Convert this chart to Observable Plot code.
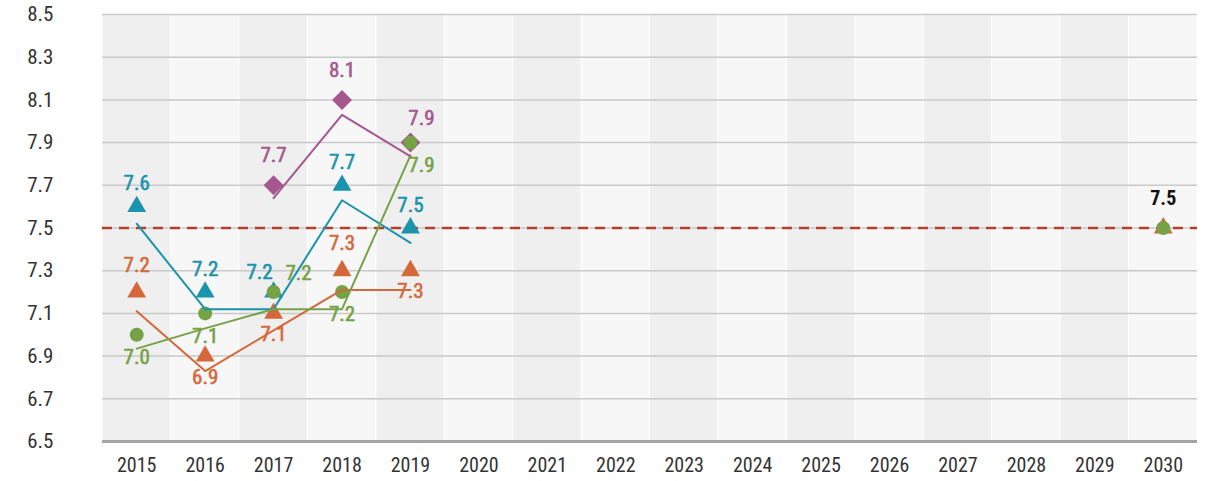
<!DOCTYPE html>
<html>
<head>
<meta charset="utf-8">
<script src="https://cdn.jsdelivr.net/npm/d3@7"></script>
<script src="https://cdn.jsdelivr.net/npm/@observablehq/plot@0.6"></script>
<style>
  html, body { margin: 0; padding: 0; background: #fff; }
  #chart svg { display: block; }
</style>
</head>
<body>
<div id="chart"></div>
<script>
// ---- data ----
const yearTicks = [2015,2016,2017,2018,2019,2020,2021,2022,2023,2024,2025,2026,2027,2028,2029,2030];
const yTicks = [6.5,6.7,6.9,7.1,7.3,7.5,7.7,7.9,8.1,8.3,8.5];

const years = [2015,2016,2017,2018,2019];
const tealValues   = [7.6, 7.2, 7.2, 7.7, 7.5];
const tealLine     = [7.52, 7.12, 7.12, 7.63, 7.43];
const orangeValues = [7.2, 6.9, 7.1, 7.3, 7.3];
const orangeLine   = [7.11, 6.83, 7.02, 7.21, 7.21];
const greenValues  = [7.0, 7.1, 7.2, 7.2, 7.9];
const greenLine    = [6.935, 7.03, 7.12, 7.12, 7.84];
const purpleYears  = [2017, 2018, 2019];
const purpleValues = [7.7, 8.1, 7.9];
const purpleLine   = [7.64, 8.03, 7.835];
const targetYear = 2030;
const targetValue = 7.5;

// ---- tables ----
const mk = (xs, ys) => xs.map((x, i) => ({x, y: ys[i]}));
const teal = mk(years, tealValues), tealL = mk(years, tealLine);
const orange = mk(years, orangeValues), orangeL = mk(years, orangeLine);
const green = mk(years, greenValues), greenL = mk(years, greenLine);
const purple = mk(purpleYears, purpleValues), purpleL = mk(purpleYears, purpleLine);
const target = [{x: targetYear, y: targetValue}];
const bands = yearTicks.map((x, i) => ({x, i}));

const C = {teal: "#1a93ad", orange: "#d5683b", green: "#76a246", purple: "#a5588f", red: "#b3402a"};
const FONT = "'Liberation Sans Narrow', 'Roboto Condensed', Roboto, sans-serif";
const fmt = d => d.y.toFixed(1);
const lbl = (color, extra) => ({x: "x", y: "y", fontSize: 21, text: fmt, fill: color, stroke: color, strokeWidth: 0.6, ...extra});

const hasAxisMarks = typeof Plot.axisX === "function";
const axisMarks = hasAxisMarks ? [
  Plot.axisX({ticks: yearTicks, tickFormat: "d", tickSize: 0, tickPadding: 16, fontSize: 20, fill: "#333", label: null}),
  Plot.axisY({ticks: yTicks, tickFormat: ".1f", tickSize: 0, tickPadding: 49, fontSize: 21, fill: "#333", label: null})
] : [];

const chart = Plot.plot({
  width: 1218,
  height: 481,
  marginLeft: 102,
  marginRight: 21,
  marginTop: 14,
  marginBottom: 40,
  style: {fontFamily: FONT, fontSize: "20px", color: "#333", background: "transparent"},
  x: {domain: [2014.5, 2030.5], ticks: yearTicks, tickFormat: "d", tickSize: 0, tickPadding: 16, label: null, axis: hasAxisMarks ? null : "bottom"},
  y: {domain: [6.5, 8.5], ticks: yTicks, tickFormat: ".1f", tickSize: 0, tickPadding: 49, label: null, axis: hasAxisMarks ? null : "left"},
  marks: [
    Plot.rect(bands, {x1: d => d.x - 0.5, x2: d => d.x + 0.5, y1: 6.5, y2: 8.5,
      fill: d => d.i % 2 === 0 ? "#efefef" : "#f7f7f7", insetLeft: 0.5, insetRight: 0.5}),
    Plot.ruleY(yTicks.filter(v => v > 6.5), {stroke: "#c9c9c9", strokeWidth: 1.5}),
    Plot.ruleY([6.5], {stroke: "#a3a3a3", strokeWidth: 3}),
    Plot.ruleY([targetValue], {stroke: C.red, strokeWidth: 2.5, strokeDasharray: "10,7"}),
    ...axisMarks,
    // markers
    Plot.dot(teal, {x: "x", y: "y", symbol: "triangle", r: 7, fill: C.teal}),
    Plot.dot(purple, {x: "x", y: "y", symbol: "diamond2", r: 9, fill: C.purple}),
    Plot.dot(orange, {x: "x", y: "y", symbol: "triangle", r: 7, fill: C.orange}),
    Plot.dot(target, {x: "x", y: "y", symbol: "triangle", r: 7, fill: C.orange}),
    Plot.dot(green, {x: "x", y: "y", symbol: "circle", r: 7, fill: C.green}),
    Plot.dot(target, {x: "x", y: "y", symbol: "circle", r: 7, fill: C.green}),
    // trend lines
    Plot.line(tealL, {x: "x", y: "y", stroke: C.teal, strokeWidth: 2}),
    Plot.line(orangeL, {x: "x", y: "y", stroke: C.orange, strokeWidth: 2}),
    Plot.line(greenL, {x: "x", y: "y", stroke: C.green, strokeWidth: 2}),
    Plot.line(purpleL, {x: "x", y: "y", stroke: C.purple, strokeWidth: 2}),
    // labels
    Plot.text(teal.filter(d => d.x !== 2017), lbl(C.teal, {dy: -23})),
    Plot.text(teal.filter(d => d.x === 2017), lbl(C.teal, {dx: -14, dy: -20})),
    Plot.text(orange.filter(d => d.x === 2015 || d.x === 2018), lbl(C.orange, {dy: -27})),
    Plot.text(orange.filter(d => !(d.x === 2015 || d.x === 2018)), lbl(C.orange, {dy: 21})),
    Plot.text(green.filter(d => d.x < 2017), lbl(C.green, {dy: 23})),
    Plot.text(green.filter(d => d.x === 2017), lbl(C.green, {dx: 25, dy: -19})),
    Plot.text(green.filter(d => d.x === 2018), lbl(C.green, {dy: 22})),
    Plot.text(green.filter(d => d.x === 2019), lbl(C.green, {dx: 11, dy: 23})),
    Plot.text(purple.filter(d => d.x < 2019), lbl(C.purple, {dy: -30})),
    Plot.text(purple.filter(d => d.x === 2019), lbl(C.purple, {dx: 11, dy: -24})),
    Plot.text(target, {x: "x", y: "y", dy: -29, fill: "#111", fontSize: 20, fontWeight: 700, text: fmt})
  ]
});
document.getElementById("chart").appendChild(chart);
</script>
</body>
</html>
